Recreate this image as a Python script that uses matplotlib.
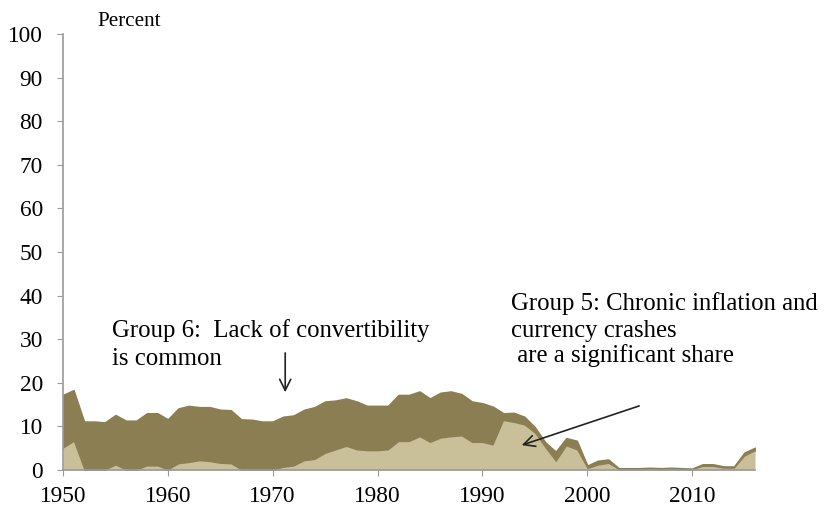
import matplotlib.pyplot as plt

plt.rcParams["font.family"] = ["Liberation Serif", "DejaVu Serif"]

years = list(range(1950, 2017))

# share of countries, percent
group5 = [5.0, 6.5, 0.0, 0.0, 0.0, 1.1, 0.0, 0.0, 0.9, 0.9,
          0.0, 1.4, 1.7, 2.1, 1.9, 1.5, 1.4, 0.0, 0.0, 0.0,
          0.0, 0.6, 0.9, 2.1, 2.4, 3.8, 4.6, 5.4, 4.6, 4.4,
          4.4, 4.6, 6.5, 6.5, 7.6, 6.3, 7.3, 7.6, 7.8, 6.3,
          6.3, 5.7, 11.3, 10.9, 10.3, 8.4, 5.0, 1.9, 5.5, 4.6,
          0.3, 1.1, 1.5, 0.1, 0.1, 0.1, 0.2, 0.1, 0.2, 0.1,
          0.1, 0.8, 0.8, 0.4, 0.4, 3.2, 4.4]
group6 = [12.2, 11.8, 11.1, 11.1, 10.9, 11.5, 11.3, 11.3, 12.1, 12.1,
          11.6, 12.7, 13.0, 12.3, 12.5, 12.3, 12.3, 11.6, 11.5, 11.1,
          11.1, 11.6, 11.6, 11.7, 12.0, 11.9, 11.3, 11.0, 11.1, 10.3,
          10.3, 10.1, 10.7, 10.7, 10.4, 10.1, 10.4, 10.4, 9.6, 9.4,
          9.0, 8.8, 1.7, 2.2, 1.9, 1.4, 1.3, 2.3, 1.8, 2.1,
          0.7, 1.0, 0.9, 0.3, 0.3, 0.3, 0.3, 0.3, 0.3, 0.3,
          0.2, 0.5, 0.5, 0.4, 0.4, 0.8, 0.7]
top = [a + b for a, b in zip(group5, group6)]

dark = "#8b7e52"
light = "#c9bf98"
axis_grey = "#9a9a9a"

fig = plt.figure(figsize=(8.24, 5.11), dpi=100)
ax = fig.add_axes([0.0765, 0.0802, 0.8398, 0.8533])

ax.fill_between(years, top, group5, color=dark, edgecolor=dark, linewidth=1.2)
ax.fill_between(years, group5, 0, color=light, linewidth=0)

ax.set_xlim(1950, 2016)
ax.set_ylim(0, 100)
ax.set_xticks(range(1950, 2011, 10))
ax.set_yticks(range(0, 101, 10))
ax.tick_params(axis="both", direction="out", length=4.5, color=axis_grey,
               labelsize=16.8)
ax.tick_params(axis="y", pad=10)
ax.tick_params(axis="x", pad=7)
for side in ["top", "right"]:
    ax.spines[side].set_visible(False)
for side in ["left", "bottom"]:
    ax.spines[side].set_color(axis_grey)
    ax.spines[side].set_linewidth(1.2)

fig.text(97 / 824, 1 - 26 / 511, "Percent", fontsize=15.2, va="baseline")

# annotations
fs = 17.8
ax.text(1954.66, 30.5, "Group 6:  Lack of convertibility", fontsize=fs,
        va="baseline")
ax.text(1954.66, 24.1, "is common", fontsize=fs, va="baseline")
ax.annotate("", xy=(1971.19, 17.2), xytext=(1971.19, 27.5),
            arrowprops=dict(arrowstyle="->", color="#222222", lw=1.2,
                            mutation_scale=20))

ax.text(1992.74, 36.7, "Group 5: Chronic inflation and", fontsize=fs,
        va="baseline")
ax.text(1992.74, 30.5, "currency crashes", fontsize=fs, va="baseline")
ax.text(1992.74, 24.8, " are a significant share", fontsize=fs, va="baseline")
ax.annotate("", xy=(1993.5, 5.5), xytext=(2005.2, 14.9),
            arrowprops=dict(arrowstyle="->", color="#222222", lw=1.2,
                            mutation_scale=20))

fig.savefig("out.png", dpi=100)
